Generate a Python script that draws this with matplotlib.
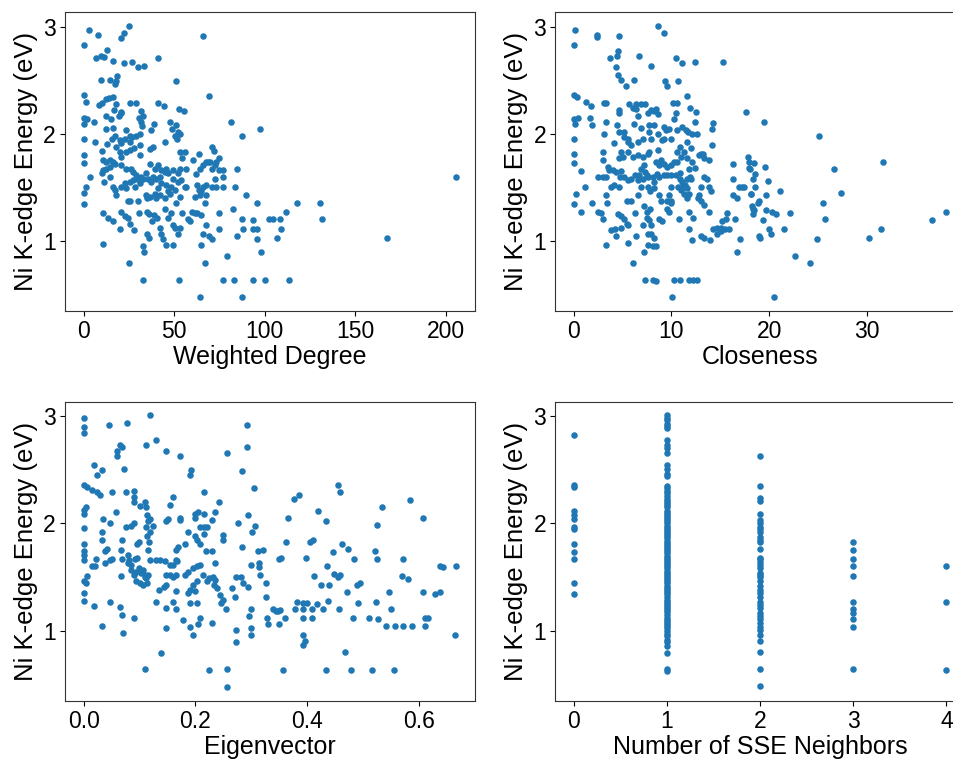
import matplotlib.pyplot as plt

plt.rcParams['font.family'] = ['Liberation Sans', 'DejaVu Sans']

ylabel = "Ni K-edge Energy (eV)"

# Weighted Degree panel
wd_x = [25.1, 3.0, 7.7, 66.1, 22.1, 20.8, 0.4, 7.0, 9.8, 13.1, 11.3, 16.2, 22.1, 26.9, 30.1, 33.2, 41.3,
        9.8, 14.4, 17.2, 18.5, 18.1, 51.3, 69.2, 0.0, 1.1, 8.5, 10.3, 12.2, 14.0, 16.2, 18.1, 16.8, 25.8,
        28.8, 20.8, 19.6, 41.1, 44.3, 52.8, 55.4, 0.0, 1.8, 0.0, 5.7, 12.5, 15.3, 20.8, 12.5, 16.2, 31.5,
        32.8, 30.6, 31.9, 32.5, 38.7, 37.5, 47.6, 51.3, 49.1, 52.2, 53.5, 50.4, 81.2, 97.4, 87.8, 0.0, 6.1,
        15.9, 17.2, 19.9, 22.7, 25.5, 26.9, 28.8, 31.0, 25.5, 20.8, 51.7, 23.6, 0.0, 10.3, 13.1, 17.7, 19.9,
        20.8, 23.6, 25.8, 27.7, 31.0, 31.4, 36.5, 38.4, 44.8, 53.1, 55.9, 54.6, 63.8, 71.2, 72.0, 67.9, 70.1,
        73.4, 74.9, 0.0, 10.7, 12.5, 14.4, 16.2, 10.7, 10.3, 12.2, 14.4, 17.2, 20.8, 23.6, 26.4, 27.3, 29.2,
        31.9, 34.7, 36.5, 39.3, 41.1, 43.0, 42.1, 44.8, 45.8, 46.7, 49.4, 52.2, 53.1, 56.5, 60.5, 62.0, 64.2,
        66.1, 68.8, 70.7, 72.5, 74.9, 76.8, 77.1, 84.5, 3.3, 11.1, 14.4, 0.0, 1.5, 0.0, 16.2, 17.2, 18.1,
        20.8, 22.7, 23.6, 25.5, 27.3, 29.5, 31.0, 28.2, 32.8, 35.6, 37.5, 38.4, 40.2, 41.1, 43.0, 45.4, 46.7,
        48.5, 49.4, 52.2, 54.1, 55.9, 62.4, 63.8, 65.1, 66.1, 67.9, 70.7, 72.5, 73.4, 76.8, 83.6, 34.3, 36.5,
        39.3, 42.1, 44.8, 47.6, 50.4, 53.5, 61.4, 64.2, 67.5, 67.0, 35.1, 40.2, 24.5, 25.5, 30.1, 90.0, 95.6,
        82.3, 51.3, 56.5, 10.7, 13.5, 16.2, 20.8, 24.5, 25.5, 22.7, 27.7, 19.9, 30.6, 35.1, 36.2, 38.7, 40.6,
        38.0, 42.1, 44.8, 46.7, 48.5, 49.4, 50.4, 54.6, 57.7, 58.7, 60.1, 61.4, 62.7, 65.1, 67.5, 66.1, 69.4,
        70.7, 74.9, 74.9, 84.5, 87.8, 88.2, 93.4, 93.4, 95.6, 95.6, 102.6, 104.5, 107.0, 35.1, 36.2, 43.0,
        43.9, 45.8, 49.4, 52.2, 53.1, 10.7, 32.8, 33.2, 25.1, 32.8, 52.8, 64.8, 67.0, 79.0, 77.1, 83.0, 93.4,
        100.2, 98.0, 64.6, 87.5, 205.9, 118.1, 130.9, 111.8, 108.4, 131.7, 109.0, 167.5, 113.7]
wd_y = [3.01, 2.97, 2.92, 2.91, 2.94, 2.89, 2.83, 2.71, 2.73, 2.78, 2.72, 2.68, 2.66, 2.67, 2.62, 2.63, 2.71,
        2.50, 2.50, 2.46, 2.54, 2.49, 2.49, 2.35, 2.36, 2.30, 2.27, 2.29, 2.32, 2.33, 2.34, 2.28, 2.22, 2.29,
        2.29, 2.20, 2.17, 2.29, 2.26, 2.23, 2.21, 2.15, 2.14, 2.09, 2.11, 2.17, 2.14, 2.19, 2.04, 2.05, 2.21,
        2.17, 2.15, 2.11, 2.07, 2.09, 2.03, 2.11, 2.08, 2.04, 2.02, 2.00, 1.98, 2.11, 2.04, 1.98, 1.95, 1.92,
        1.95, 1.98, 1.94, 1.95, 1.98, 1.97, 1.98, 2.00, 1.92, 1.91, 1.95, 2.03, 1.80, 1.84, 1.90, 1.88, 1.83,
        1.78, 1.83, 1.85, 1.87, 1.89, 1.80, 1.86, 1.88, 1.92, 1.83, 1.83, 1.77, 1.81, 1.88, 1.84, 1.74, 1.74,
        1.74, 1.77, 1.73, 1.75, 1.74, 1.75, 1.74, 1.66, 1.63, 1.67, 1.69, 1.72, 1.71, 1.67, 1.67, 1.64, 1.61,
        1.60, 1.63, 1.72, 1.67, 1.71, 1.66, 1.60, 1.64, 1.67, 1.63, 1.66, 1.63, 1.67, 1.67, 1.75, 1.62, 1.67,
        1.71, 1.74, 1.67, 1.71, 1.66, 1.60, 1.66, 1.67, 1.60, 1.55, 1.60, 1.45, 1.50, 1.34, 1.50, 1.47, 1.43,
        1.50, 1.54, 1.49, 1.55, 1.57, 1.58, 1.54, 1.50, 1.58, 1.58, 1.55, 1.60, 1.58, 1.49, 1.54, 1.52, 1.46,
        1.50, 1.58, 1.55, 1.57, 1.50, 1.52, 1.47, 1.46, 1.50, 1.52, 1.50, 1.58, 1.50, 1.50, 1.50, 1.43, 1.41,
        1.44, 1.43, 1.40, 1.44, 1.47, 1.41, 1.41, 1.43, 1.43, 1.35, 1.40, 1.40, 1.37, 1.37, 1.37, 1.43, 1.35,
        1.30, 1.35, 1.50, 1.26, 1.21, 1.18, 1.27, 1.21, 1.16, 1.23, 1.10, 1.11, 1.26, 1.27, 1.25, 1.24, 1.21,
        1.18, 1.12, 1.30, 1.21, 1.26, 1.15, 1.12, 1.26, 1.20, 1.18, 1.27, 1.26, 1.26, 1.24, 1.15, 1.06, 1.04,
        1.02, 1.26, 1.11, 1.04, 1.20, 1.11, 1.19, 1.11, 1.11, 1.02, 1.20, 1.20, 1.03, 1.06, 1.03, 1.06,
        1.02, 0.96, 0.96, 1.06, 1.12, 0.97, 0.95, 0.89, 0.79, 0.63, 0.63, 0.96, 0.79, 0.86, 0.63, 0.63, 0.63,
        0.63, 0.89, 0.47, 0.47, 1.60, 1.35, 1.35, 1.27, 1.20, 1.20, 1.11, 1.03, 0.63]

# Closeness panel
cl_x = [8.64, 9.19, 0.10, 0.03, 2.41, 2.41, 4.68, 4.58, 4.44, 3.73, 6.71, 7.90, 10.44, 11.12, 12.37, 15.29,
        4.34, 4.51, 4.85, 5.36, 6.20, 9.32, 9.59, 10.68, 0.03, 0.37, 1.29, 1.80, 1.90, 1.63, 0.0, 0.10, 0.44,
        0.0, 0.0, 0.0, 0.71, 1.19, 0.27, 0.0, 0.71, 1.86, 3.15, 3.32, 3.32, 3.08, 2.98, 2.98, 2.47, 2.98,
        3.32, 3.49, 3.66, 4.00, 4.34, 4.85, 4.10, 4.68, 4.68, 4.44, 4.68, 5.19, 5.12, 5.53, 5.59, 4.85, 5.02,
        4.68, 3.83, 4.10, 4.68, 4.78, 5.19, 5.59, 3.32, 3.42, 2.81, 2.47, 2.98, 3.83, 4.24, 4.34, 4.85, 3.32,
        5.53, 4.58, 4.85, 5.19, 5.46, 5.59, 5.46, 5.86, 6.03, 6.37, 6.27, 6.54, 6.88, 7.22, 7.05, 7.22, 7.56,
        8.07, 8.41, 7.29, 8.07, 8.41, 7.56, 7.90, 8.24, 7.49, 7.73, 7.90, 7.49, 7.83, 5.70, 6.03, 6.37, 6.88,
        7.29, 6.37, 6.61, 6.14, 6.88, 7.56, 7.90, 8.24, 8.41, 8.58, 7.73, 8.24, 7.73, 8.58, 7.90, 9.19, 9.42,
        9.76, 9.25, 8.98, 9.93, 6.54, 7.05, 5.86, 5.59, 6.03, 6.54, 7.05, 7.56, 7.73, 8.58, 8.41, 8.92, 8.75,
        9.25, 9.53, 9.93, 6.88, 7.22, 7.29, 7.49, 6.71, 5.86, 6.27, 6.54, 7.05, 7.56, 8.07, 8.51, 8.24, 8.75,
        9.19, 9.53, 10.00, 10.44, 10.88, 7.56, 7.83, 8.24, 8.75, 8.92, 9.53, 10.00, 9.76, 9.93, 10.68, 10.95,
        11.22, 11.56, 9.59, 9.76, 10.00, 10.78, 8.75, 9.08, 10.27, 10.88, 11.80, 12.24, 12.64, 10.03, 10.27,
        10.44, 10.20, 10.61, 11.56, 10.54, 11.12, 11.46, 11.69, 12.14, 12.64, 11.90, 12.47, 12.37, 11.63,
        10.88, 11.29, 10.95, 11.63, 10.54, 10.27, 10.54, 12.03, 12.14, 11.80, 12.37, 10.88, 11.12, 11.36,
        11.63, 11.90, 12.03, 11.80, 11.29, 11.63, 11.80, 12.24, 11.80, 12.14, 12.81, 12.98, 13.32, 13.83,
        13.25, 14.17, 14.27, 14.17, 13.32, 13.59, 13.83, 14.00, 12.98, 12.81, 12.71, 12.98, 13.32, 13.83,
        12.98, 13.32, 13.93, 14.27, 14.61, 15.02, 15.42, 15.86, 15.19, 15.53, 15.69, 14.61, 15.02, 16.54,
        16.71, 17.05, 16.31, 16.31, 16.71, 16.88, 17.22, 17.46, 16.31, 17.66, 17.86, 17.97, 18.07, 18.30,
        18.20, 18.40, 18.10, 18.90, 18.90, 19.45, 25.07, 18.46, 19.55, 17.95, 18.53, 19.90, 18.53, 18.08,
        19.66, 21.10, 18.87, 18.29, 18.36, 19.66, 20.24, 20.68, 19.32, 22.12, 20.00, 20.21, 19.04, 21.51,
        22.67, 24.11, 20.51, 24.86, 25.48, 25.72, 26.61, 27.36, 30.17, 31.44, 31.61, 36.64, 38.05]
cl_y = [3.01, 2.94, 2.97, 2.83, 2.92, 2.90, 2.91, 2.77, 2.73, 2.71, 2.73, 2.63, 2.71, 2.66, 2.67, 2.67,
        2.62, 2.55, 2.50, 2.45, 2.50, 2.49, 2.45, 2.49, 2.36, 2.34, 2.30, 2.26, 2.08, 2.15, 2.14, 2.09, 2.15,
        1.95, 1.81, 1.73, 1.65, 1.50, 1.44, 1.34, 1.27, 1.35, 2.29, 2.29, 2.11, 2.00, 1.83, 1.75, 1.60, 1.60,
        1.60, 1.69, 1.66, 1.66, 1.64, 1.65, 1.91, 2.19, 2.22, 2.08, 2.02, 2.02, 1.97, 1.95, 1.92, 1.83, 1.78,
        1.77, 1.50, 1.52, 1.50, 1.60, 1.60, 1.57, 1.43, 1.35, 1.26, 1.27, 1.20, 1.10, 1.11, 1.04, 1.12, 0.96,
        0.98, 1.25, 1.23, 1.20, 1.16, 1.15, 1.37, 1.37, 0.79, 1.04, 1.26, 1.43, 1.50, 1.32, 1.15, 0.89, 0.96,
        0.95, 0.95, 0.63, 0.63, 0.62, 1.06, 1.06, 1.03, 1.21, 1.19, 1.15, 1.27, 1.30, 2.28, 2.24, 2.28, 2.28,
        2.28, 2.23, 2.17, 2.09, 2.05, 2.19, 2.22, 2.21, 2.23, 2.18, 2.08, 2.08, 2.02, 2.00, 1.95, 2.06, 2.03,
        2.04, 1.95, 1.94, 1.95, 1.92, 1.95, 1.89, 1.83, 1.78, 1.80, 1.78, 1.81, 1.83, 1.85, 1.74, 1.75, 1.71,
        1.72, 1.69, 1.71, 1.67, 1.71, 1.64, 1.61, 1.61, 1.58, 1.61, 1.57, 1.58, 1.60, 1.60, 1.62, 1.55, 1.60,
        1.61, 1.61, 1.61, 1.61, 1.63, 1.50, 1.46, 1.49, 1.43, 1.37, 1.37, 1.37, 1.43, 1.50, 1.50, 1.47,
        1.50, 1.49, 1.30, 1.27, 1.35, 1.20, 1.20, 1.18, 0.63, 0.63, 0.63, 0.63, 0.63, 0.47, 2.14,
        2.19, 2.29, 2.29, 2.35, 2.03, 2.06, 2.03, 2.02, 2.00, 2.00, 2.24, 2.20, 2.11, 1.92,
        1.88, 1.83, 1.78, 1.77, 1.83, 1.74, 1.74, 1.87, 1.74, 1.67, 1.68, 1.58, 1.55, 1.52,
        1.58, 1.60, 1.58, 1.44, 1.44, 1.40, 1.27, 1.21, 1.11, 1.01, 1.80, 1.81, 1.77, 1.75,
        1.81, 1.89, 2.10, 2.04, 1.60, 1.58, 1.50, 1.46, 1.50, 1.43, 1.40, 1.37, 1.33, 1.27,
        1.04, 1.03, 1.01, 1.11, 1.12, 1.12, 1.11, 1.11, 1.18, 1.20, 1.26, 1.06, 1.09, 1.20,
        0.89, 1.02, 1.58, 1.43, 1.40, 1.50, 1.50, 1.50, 1.72, 2.20, 1.78, 1.74, 1.67, 1.58,
        1.32, 1.29, 1.44, 1.37, 1.04, 2.11, 1.98, 1.73, 1.69, 1.68, 1.62, 1.56, 1.50, 1.44,
        1.43, 1.46, 1.35, 1.30, 1.25, 1.29, 1.27, 1.25, 1.19, 1.26, 1.11, 1.06, 1.03, 1.11,
        0.86, 0.79, 0.47, 1.02, 1.35, 1.20, 1.67, 1.45, 1.03, 1.11, 1.74, 1.19, 1.27]

# Eigenvector panel
ev_x = [0.0, 0.0, 0.0, 0.119, 0.045, 0.078, 0.130, 0.293, 0.293, 0.256, 0.111, 0.148, 0.172, 0.065, 0.069,
        0.060, 0.060, 0.018, 0.032, 0.023, 0.073, 0.193, 0.190, 0.284, 0.305, 0.0, 0.006, 0.014, 0.024, 0.030,
        0.051, 0.076, 0.090, 0.090, 0.090, 0.100, 0.109, 0.111, 0.057, 0.0, 0.0, 0.005, 0.0, 0.035, 0.047,
        0.033, 0.033, 0.068, 0.076, 0.085, 0.090, 0.113, 0.118, 0.115, 0.112, 0.124, 0.118, 0.113, 0.117,
        0.115, 0.099, 0.095, 0.154, 0.159, 0.148, 0.151, 0.173, 0.173, 0.187, 0.181, 0.169, 0.166, 0.166,
        0.199, 0.204, 0.215, 0.199, 0.208, 0.215, 0.220, 0.199, 0.202, 0.209, 0.215, 0.215, 0.243, 0.235,
        0.229, 0.250, 0.250, 0.219, 0.229, 0.235, 0.277, 0.284, 0.294, 0.306, 0.302, 0.312, 0.321, 0.314,
        0.314, 0.315, 0.300, 0.0, 0.0, 0.0, 0.0, 0.014, 0.020, 0.022, 0.0, 0.004, 0.006, 0.0, 0.0, 0.038,
        0.041, 0.039, 0.047, 0.051, 0.066, 0.069, 0.079, 0.082, 0.079, 0.085, 0.091, 0.096, 0.085, 0.090,
        0.094, 0.099, 0.102, 0.106, 0.109, 0.112, 0.115, 0.094, 0.100, 0.106, 0.113, 0.109, 0.118, 0.066,
        0.018, 0.047, 0.065, 0.069, 0.090, 0.033, 0.070, 0.130, 0.136, 0.145, 0.154, 0.160, 0.167, 0.148,
        0.154, 0.160, 0.166, 0.135, 0.143, 0.148, 0.130, 0.147, 0.147, 0.159, 0.165, 0.166, 0.178, 0.181,
        0.187, 0.196, 0.202, 0.208, 0.213, 0.203, 0.196, 0.190, 0.187, 0.199, 0.220, 0.225, 0.231, 0.235,
        0.233, 0.239, 0.244, 0.250, 0.254, 0.245, 0.191, 0.202, 0.208, 0.205, 0.196, 0.191, 0.230, 0.256,
        0.272, 0.273, 0.300, 0.296, 0.300, 0.299, 0.282, 0.273, 0.266, 0.270, 0.285, 0.294, 0.326, 0.326,
        0.329, 0.330, 0.339, 0.348, 0.350, 0.109, 0.224, 0.256, 0.139, 0.456, 0.459, 0.376, 0.386, 0.584,
        0.534, 0.420, 0.366, 0.608, 0.434, 0.525, 0.363, 0.405, 0.410, 0.463, 0.474, 0.447, 0.521, 0.353,
        0.398, 0.484, 0.525, 0.572, 0.436, 0.638, 0.644, 0.667, 0.412, 0.424, 0.440, 0.448, 0.456, 0.459,
        0.569, 0.581, 0.490, 0.494, 0.471, 0.546, 0.607, 0.629, 0.638, 0.381, 0.393, 0.400, 0.417, 0.438,
        0.429, 0.344, 0.351, 0.360, 0.350, 0.378, 0.393, 0.408, 0.393, 0.408, 0.457, 0.483, 0.491, 0.510,
        0.527, 0.524, 0.550, 0.541, 0.557, 0.571, 0.587, 0.611, 0.617, 0.611, 0.393, 0.396, 0.393, 0.468,
        0.665, 0.357, 0.434, 0.478, 0.517, 0.556]
ev_y = [2.98, 2.90, 2.84, 3.01, 2.92, 2.94, 2.78, 2.92, 2.71, 2.66, 2.73, 2.68, 2.63, 2.73, 2.71,
        2.68, 2.63, 2.55, 2.50, 2.45, 2.51, 2.50, 2.45, 2.49, 2.33, 2.36, 2.34, 2.31, 2.29, 2.27,
        2.29, 2.29, 2.30, 2.25, 2.20, 2.16, 2.20, 2.15, 2.11, 2.13, 2.09, 2.15, 1.96, 2.04, 2.00,
        1.92, 1.85, 1.85, 1.97, 1.98, 2.00, 2.08, 2.04, 2.02, 1.97, 1.98, 1.92, 1.88, 1.83,
        1.75, 1.83, 1.81, 2.17, 2.25, 2.02, 2.04, 2.05, 2.03, 1.92, 1.81, 1.78, 1.75, 1.66,
        2.09, 2.11, 2.09, 2.05, 1.97, 1.97, 1.97, 1.88, 1.85, 1.81, 1.90, 2.29, 2.20, 2.11,
        2.03, 1.89, 1.85, 1.74, 1.74, 1.63, 2.00, 1.78, 2.08, 1.98, 1.92, 1.74, 1.75, 1.63,
        1.59, 1.52, 1.61, 1.81, 1.74, 1.71, 1.66, 1.60, 1.60, 1.67, 1.46, 1.44, 1.51, 1.35, 1.28, 1.74,
        1.76, 1.63, 1.66, 1.67, 1.75, 1.67, 1.71, 1.66, 1.63, 1.61, 1.67, 1.68, 1.57, 1.52,
        1.55, 1.58, 1.54, 1.57, 1.52, 1.49, 1.52, 1.46, 1.44, 1.43, 1.44, 1.50, 1.66, 1.51,
        1.23, 1.27, 1.22, 1.15, 1.12, 1.04, 0.98, 1.66, 1.66, 1.65, 1.61, 1.61, 1.65, 1.52,
        1.52, 1.50, 1.52, 1.38, 1.41, 1.43, 1.27, 1.21, 1.02, 1.27, 1.37, 1.20, 1.10, 1.52,
        1.55, 1.58, 1.60, 1.61, 1.52, 1.46, 1.43, 1.38, 1.35, 1.37, 1.46, 1.49, 1.50, 1.47,
        1.43, 1.40, 1.33, 1.29, 1.20, 1.26, 1.26, 1.26, 1.12, 1.06, 0.96, 1.03, 1.07, 0.64,
        0.89, 1.01, 1.20, 1.14, 1.02, 0.96, 1.50, 1.50, 1.40, 1.31, 1.44, 1.41, 1.44, 1.31,
        1.12, 1.06, 1.20, 1.18, 1.67, 0.64, 0.63, 0.47, 0.79, 2.36, 2.29, 2.23, 2.27, 2.22,
        2.15, 2.12, 2.05, 2.05, 2.02, 1.99, 1.83, 1.83, 1.85, 1.81, 1.76, 1.73, 1.74, 1.68,
        1.68, 1.67, 1.67, 1.67, 1.60, 1.60, 1.59, 1.60, 1.51, 1.43, 1.43, 1.53, 1.50, 1.52,
        1.51, 1.48, 1.43, 1.44, 1.36, 1.36, 1.36, 1.34, 1.36, 1.27, 1.26, 1.26, 1.25, 1.28,
        1.20, 1.18, 1.19, 1.12, 1.06, 1.20, 1.20, 1.20, 1.12, 1.12, 1.20, 1.12, 1.26, 1.12,
        1.11, 1.27, 1.20, 1.04, 1.04, 1.04, 1.04, 1.12, 1.12, 1.04, 0.96, 0.90, 0.87, 0.80,
        0.96, 0.63, 0.63, 0.63, 0.63, 0.63]

# Number of SSE neighbors panel: energies in each column
sse_counts = [0, 1, 2, 3, 4]
sse_0 = [2.83, 2.36, 2.34, 2.12, 2.08, 2.04, 1.97, 1.95, 1.81, 1.73, 1.67, 1.44, 1.34]
sse_1 = [3.01, 2.98, 2.97, 2.93, 2.91, 2.89, 2.78, 2.73, 2.70, 2.66, 2.55, 2.51, 2.46, 2.44,
         2.35, 2.33, 2.30, 2.28, 2.26, 2.23, 2.21, 2.19, 2.17, 2.15, 2.12, 2.10, 2.08, 2.06, 2.04,
         2.02, 2.00, 1.98, 1.96, 1.94, 1.92, 1.90, 1.88, 1.86, 1.84, 1.82, 1.80, 1.78, 1.76, 1.74,
         1.72, 1.70, 1.68, 1.66, 1.64, 1.62, 1.60, 1.58, 1.56, 1.54, 1.52, 1.50, 1.48, 1.46, 1.44,
         1.42, 1.40, 1.38, 1.36, 1.34, 1.31, 1.29, 1.27, 1.25, 1.23, 1.21, 1.19, 1.17, 1.15, 1.12,
         1.10, 1.08, 1.06, 1.04, 1.02, 1.00, 0.97, 0.95, 0.91, 0.89, 0.86, 0.79, 0.64, 0.62]
sse_2 = [2.63, 2.35, 2.24, 2.21, 2.09, 2.03, 2.00, 1.97, 1.95, 1.92, 1.87, 1.85, 1.83, 1.76, 1.68,
         1.67, 1.64, 1.61, 1.58, 1.54, 1.52, 1.50, 1.46, 1.42, 1.38, 1.35, 1.31, 1.27, 1.24, 1.21,
         1.16, 1.14, 1.11, 1.07, 1.03, 1.01, 0.96, 0.90, 0.80, 0.64, 0.48]
sse_3 = [1.83, 1.75, 1.67, 1.60, 1.51, 1.27, 1.20, 1.16, 1.11, 1.03, 0.64]
sse_4 = [1.60, 1.27, 0.63]

panels = [
    (wd_x, wd_y, "Weighted Degree", [0, 50, 100, 150, 200], None),
    (cl_x, cl_y, "Closeness", [0, 10, 20, 30], None),
    (ev_x, ev_y, "Eigenvector", [0.0, 0.2, 0.4, 0.6], ["0.0", "0.2", "0.4", "0.6"]),
]
sse_cols = [sse_0, sse_1, sse_2, sse_3, sse_4]
sse_x = [c for c, col in zip(sse_counts, sse_cols) for _ in col]
sse_y = [v for col in sse_cols for v in col]
panels.append((sse_x, sse_y, "Number of SSE Neighbors", sse_counts, None))

fig = plt.figure(figsize=(9.54, 7.61), dpi=100)
rects = [
    [0.0681, 0.5913, 0.4298, 0.3929],
    [0.5818, 0.5913, 0.4298, 0.3929],
    [0.0681, 0.0788, 0.4298, 0.3934],
    [0.5818, 0.0788, 0.4298, 0.3934],
]

for rect, (xs, ys, xlabel, xticks, xticklabels) in zip(rects, panels):
    ax = fig.add_axes(rect)
    ax.scatter(xs, ys, s=22, color='#1f77b4', linewidths=0)
    ax.set_xlabel(xlabel, fontsize=18, labelpad=1.5)
    ax.set_ylabel(ylabel, fontsize=18.5)
    ax.set_xticks(xticks)
    if xticklabels:
        ax.set_xticklabels(xticklabels)
    ax.set_yticks([1, 2, 3])
    ax.set_ylim(0.343, 3.137)
    ax.tick_params(labelsize=16.5, pad=3)
    for sp in ax.spines.values():
        sp.set_color('#333333')

fig.axes[0].set_xlim(-10.3, 216.3)
fig.axes[1].set_xlim(-1.9, 40.0)
fig.axes[2].set_xlim(-0.0335, 0.7005)
fig.axes[3].set_xlim(-0.2, 4.2)

plt.savefig('out.png', dpi=100)
